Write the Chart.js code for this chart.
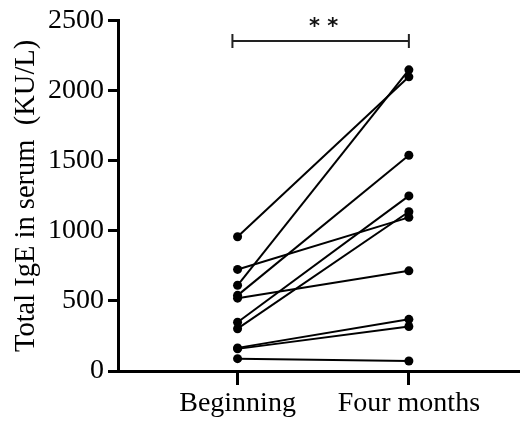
<!DOCTYPE html>
<html>
<head>
<meta charset="utf-8">
<script src="https://cdn.jsdelivr.net/npm/chart.js@4.4.0/dist/chart.umd.min.js"></script>
<style>
html,body{margin:0;padding:0;background:#fff;}
#wrap{width:523px;height:423px;position:relative;}
</style>
</head>
<body>
<div id="wrap"><canvas id="c" width="523" height="423"></canvas></div>
<script>
const categories = ['Beginning', 'Four months'];
const beginning = [958, 612, 725, 540, 520, 348, 302, 165, 158, 88];
const fourMonths = [2100, 2150, 1097, 1540, 715, 1250, 1137, 369, 318, 71];
const yTicks = [0, 500, 1000, 1500, 2000, 2500];
const yTitle = 'Total IgE in serum  (KU/L)';
const sigLabel = '* *';
const sigLevel = 2355;
const sigFrom = 0.97, sigTo = 2;

const FONT = "'Liberation Serif', 'Times New Roman', serif";

const datasets = beginning.map((b, i) => ({
  data: [{x: 1, y: b}, {x: 2, y: fourMonths[i]}],
  borderColor: '#000',
  backgroundColor: '#000',
  borderWidth: 2,
  pointRadius: 4.5,
  pointBackgroundColor: '#000',
  pointBorderWidth: 0,
  tension: 0
}));

const sigPlugin = {
  id: 'sig',
  afterDraw(chart) {
    const {ctx, scales: {x, y}} = chart;
    const x1 = x.getPixelForValue(sigFrom), x2 = x.getPixelForValue(sigTo);
    const yy = y.getPixelForValue(sigLevel);
    ctx.save();
    ctx.strokeStyle = '#222';
    ctx.lineWidth = 2;
    ctx.beginPath();
    ctx.moveTo(x1, yy); ctx.lineTo(x2, yy);
    ctx.moveTo(x1, yy - 7); ctx.lineTo(x1, yy + 7);
    ctx.moveTo(x2, yy - 7); ctx.lineTo(x2, yy + 7);
    ctx.stroke();
    ctx.fillStyle = '#111';
    ctx.font = "bold 21px 'DejaVu Sans'";
    ctx.textAlign = 'center';
    ctx.textBaseline = 'middle';
    ctx.fillText(sigLabel, (x1 + x2) / 2 + 3, yy - 14);
    ctx.restore();
  }
};

new Chart(document.getElementById('c'), {
  type: 'line',
  data: {datasets},
  plugins: [sigPlugin],
  options: {
    responsive: false,
    animation: false,
    layout: {padding: {top: 17, right: 2, left: 0, bottom: 0}},
    plugins: {legend: {display: false}, tooltip: {enabled: false}},
    scales: {
      x: {
        type: 'linear',
        min: 0.302,
        max: 2.64,
        afterBuildTicks: s => { s.ticks = [{value: 1}, {value: 2}]; },
        afterFit: s => { s.height = 52; },
        grid: {drawOnChartArea: false, drawTicks: true, tickLength: 14, color: '#000', lineWidth: 3},
        border: {color: '#000', width: 3},
        ticks: {
          color: '#000',
          padding: 2,
          maxRotation: 0,
          font: {family: FONT, size: 28},
          callback: v => categories[v - 1]
        }
      },
      y: {
        type: 'linear',
        min: 0,
        max: 2500,
        afterBuildTicks: s => { s.ticks = yTicks.map(v => ({value: v})); },
        afterFit: s => { s.width = 118; },
        grid: {drawOnChartArea: false, drawTicks: true, tickLength: 10, color: '#000', lineWidth: 3},
        border: {color: '#000', width: 3},
        ticks: {
          color: '#000',
          padding: 4,
          font: {family: FONT, size: 28},
          callback: v => String(v)
        },
        title: {
          display: true,
          text: yTitle,
          color: '#000',
          font: {family: FONT, size: 28.5},
          padding: {top: 9, bottom: 0}
        }
      }
    }
  }
});
</script>
</body>
</html>
